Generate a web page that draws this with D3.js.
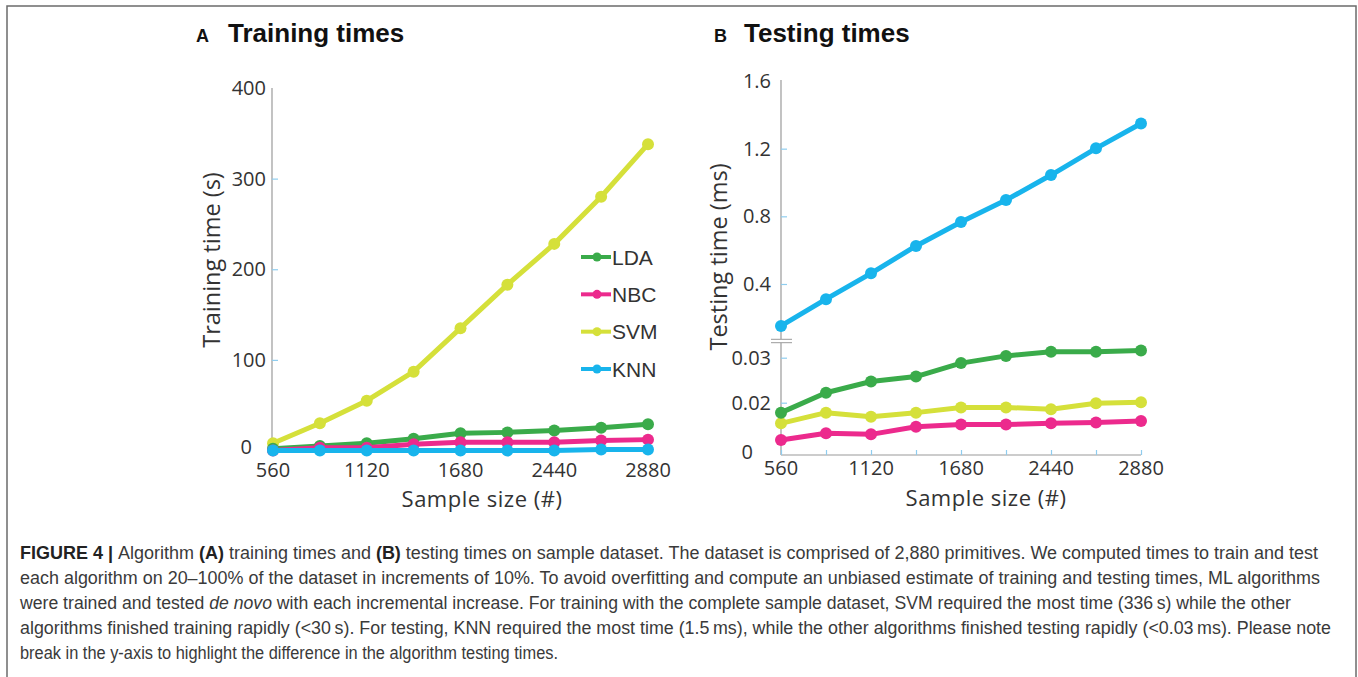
<!DOCTYPE html>
<meta charset="utf-8">
<script src="https://d3js.org/d3.v7.min.js"></script>
<style>
  body { margin: 0; background: #fff; }
  text { fill: #333; }
</style>
<div id="fig"></div>
<script>
// x categories: percent of the dataset used (20..100 in steps of 10)
var pct = [20, 30, 40, 50, 60, 70, 80, 90, 100];
// tick labels printed under every other point
var xTickPct = [20, 40, 60, 80, 100];
var xTickLabels = ["560", "1120", "1680", "2440", "2880"];

var algos = ["LDA", "NBC", "SVM", "KNN"];
var colors = {LDA: "#3aab4a", NBC: "#ec2a8d", SVM: "#d5e03a", KNN: "#18b4ec"};

// training times (s)
var trainLDA = [2, 5, 8, 13, 19, 20, 22, 25, 29];
var trainNBC = [0, 3, 3, 7, 9, 9, 9, 11, 12];
var trainSVM = [8, 30, 55, 87, 135, 183, 228, 280, 338];
var trainKNN = [0, 0, 0, 0, 0, 0, 0, 1, 1];

// testing times (ms)
var testLDA = [0.0162, 0.0222, 0.0247, 0.0258, 0.0288, 0.0304, 0.0313, 0.0313, 0.0316];
var testNBC = [0.0057, 0.0083, 0.0079, 0.0108, 0.0117, 0.0117, 0.0121, 0.0124, 0.0130];
var testSVM = [0.0121, 0.0162, 0.0146, 0.0162, 0.0182, 0.0182, 0.0175, 0.0198, 0.0201];
var testKNN = [0.152, 0.310, 0.463, 0.625, 0.766, 0.896, 1.044, 1.202, 1.349];

var trainTicks = [0, 100, 200, 300, 400];
var testTopTicks = [0.4, 0.8, 1.2, 1.6];
var testBotTicks = [0, 0.02, 0.03];

var W = 1358, H = 677;
var svg = d3.select("#fig").append("svg").attr("width", W).attr("height", H);

// outer frame
svg.append("rect").attr("x", 7).attr("y", 6).attr("width", 1349).attr("height", 680)
  .attr("fill", "none").attr("stroke", "#6b6b6b").attr("stroke-width", 1.5);

var tickFont = "Open Sans, sans-serif";
var axisColor = "#9a9a9a", tickColor = "#8fcdef";

function panelTitle(x, letter, title, gap) {
  var t = svg.append("text").attr("x", x).attr("y", 42)
    .style("font-family", "Liberation Sans, Arial, sans-serif").style("font-weight", "bold");
  t.append("tspan").text(letter).style("font-size", "18px").attr("fill", "#111");
  t.append("tspan").text(title).attr("dx", gap).style("font-size", "26px").attr("fill", "#111");
}

function drawSeries(g, x, y, vals, color) {
  var pts = pct.map(function(p, i) { return [x(p), y(vals[i])]; });
  g.append("path").attr("d", d3.line()(pts))
    .attr("fill", "none").attr("stroke", color).attr("stroke-width", 5)
    .attr("stroke-linejoin", "round");
  g.selectAll(null).data(pts).enter().append("circle")
    .attr("cx", function(d) { return d[0]; }).attr("cy", function(d) { return d[1]; })
    .attr("r", 6).attr("fill", color);
}

function styleAxis(g) {
  g.select(".domain").remove();
  g.selectAll(".tick line").attr("stroke", tickColor).attr("stroke-width", 1.2);
  g.selectAll(".tick text").style("font-family", tickFont).style("font-size", "20px").attr("fill", "#333");
}

// ---------------- Panel A ----------------
panelTitle(196, "A", "Training times", 19);

var xA = d3.scalePoint().domain(pct).range([273, 648]);
var yA = d3.scaleLinear().domain([0, 400]).range([450.5, 88]);

var gA = svg.append("g");
gA.append("line").attr("x1", 272).attr("x2", 272).attr("y1", 88).attr("y2", 451)
  .attr("stroke", axisColor).attr("stroke-width", 1.2);

var yAxisA = gA.append("g").attr("transform", "translate(272,0)")
  .call(d3.axisLeft(yA).tickValues(trainTicks).tickSizeInner(-6).tickSizeOuter(0).tickPadding(6));
styleAxis(yAxisA);
yAxisA.selectAll(".tick").filter(function(d) { return d === 0 || d === 400; }).select("line").remove();
yAxisA.selectAll(".tick").filter(function(d) { return d === 0; }).select("text")
  .attr("x", -20).attr("y", -3);

gA.selectAll(null).data(xTickPct).enter().append("text")
  .attr("x", function(d) { return xA(d); }).attr("y", 477)
  .attr("text-anchor", "middle")
  .style("font-family", tickFont).style("font-size", "20px")
  .text(function(d, i) { return xTickLabels[i]; });

gA.append("text").attr("x", 482).attr("y", 507).attr("text-anchor", "middle")
  .style("font-family", tickFont).style("font-size", "22px").style("letter-spacing", "0.5px")
  .text("Sample size (#)");
gA.append("text").attr("transform", "translate(220,260)rotate(-90)").attr("text-anchor", "middle")
  .style("font-family", tickFont).style("font-size", "23.5px").text("Training time (s)");

var trainData = {LDA: trainLDA, NBC: trainNBC, SVM: trainSVM, KNN: trainKNN};
["SVM", "LDA", "NBC", "KNN"].forEach(function(k) {
  drawSeries(gA, xA, yA, trainData[k], colors[k]);
});

// legend
var legY = d3.scalePoint().domain(algos).range([257, 369]);
var leg = gA.selectAll(null).data(algos).enter().append("g")
  .attr("transform", function(d) { return "translate(0," + legY(d) + ")"; });
leg.append("line").attr("x1", 581).attr("x2", 611).attr("stroke-width", 4)
  .attr("stroke", function(d) { return colors[d]; });
leg.append("circle").attr("cx", 597).attr("r", 4.5).attr("fill", function(d) { return colors[d]; });
leg.append("text").attr("x", 612).attr("dy", "0.36em")
  .style("font-family", "Liberation Sans, Arial, sans-serif").style("font-size", "21px")
  .text(function(d) { return d; });

// ---------------- Panel B ----------------
panelTitle(714, "B", "Testing times", 17);

var xB = d3.scalePoint().domain(pct).range([781, 1141]);
var yTop = d3.scaleLinear().domain([0.06, 1.6]).range([341.5, 81]);
var yBot = d3.scaleLinear().domain(testBotTicks).range([455, 402.7, 357.7]);

var gB = svg.append("g");
gB.append("line").attr("x1", 781).attr("x2", 781).attr("y1", 80).attr("y2", 339)
  .attr("stroke", axisColor).attr("stroke-width", 1.2);
gB.append("line").attr("x1", 781).attr("x2", 781).attr("y1", 343).attr("y2", 455)
  .attr("stroke", axisColor).attr("stroke-width", 1.2);
gB.append("line").attr("x1", 781).attr("x2", 1141).attr("y1", 455).attr("y2", 455)
  .attr("stroke", axisColor).attr("stroke-width", 1.2);
// break marks
[339.3, 342.7].forEach(function(yy) {
  gB.append("line").attr("x1", 771).attr("x2", 792).attr("y1", yy).attr("y2", yy)
    .attr("stroke", "#9a9a9a").attr("stroke-width", 1);
});

var yAxisBT = gB.append("g").attr("transform", "translate(781,0)")
  .call(d3.axisLeft(yTop).tickValues(testTopTicks).tickSizeInner(-6).tickSizeOuter(0).tickPadding(10)
    .tickFormat(d3.format(".1f")));
styleAxis(yAxisBT);
yAxisBT.selectAll(".tick").filter(function(d) { return d === 1.6; }).select("line").remove();

var yAxisBB = gB.append("g").attr("transform", "translate(781,0)")
  .call(d3.axisLeft(yBot).tickValues(testBotTicks).tickSizeInner(-6).tickSizeOuter(0).tickPadding(10)
    .tickFormat(function(d) { return d === 0 ? "0" : d3.format(".2f")(d); }));
styleAxis(yAxisBB);
yAxisBB.selectAll(".tick").filter(function(d) { return d === 0; }).select("line").remove();
yAxisBB.selectAll(".tick").filter(function(d) { return d === 0; }).select("text")
  .attr("x", -28).attr("y", -3);

var xAxisB = gB.append("g").attr("transform", "translate(0,455)")
  .call(d3.axisBottom(xB).tickSizeInner(-5).tickSizeOuter(0).tickFormat(""));
xAxisB.select(".domain").remove();
xAxisB.selectAll(".tick line").attr("stroke", tickColor).attr("stroke-width", 1.2);

gB.selectAll(null).data(xTickPct).enter().append("text")
  .attr("x", function(d) { return xB(d); }).attr("y", 475)
  .attr("text-anchor", "middle")
  .style("font-family", tickFont).style("font-size", "20px")
  .text(function(d, i) { return xTickLabels[i]; });

gB.append("text").attr("x", 986).attr("y", 506).attr("text-anchor", "middle")
  .style("font-family", tickFont).style("font-size", "22px").style("letter-spacing", "0.5px")
  .text("Sample size (#)");
gB.append("text").attr("transform", "translate(727,257)rotate(-90)").attr("text-anchor", "middle")
  .style("font-family", tickFont).style("font-size", "23.5px").text("Testing time (ms)");

drawSeries(gB, xB, yTop, testKNN, colors.KNN);
drawSeries(gB, xB, yBot, testSVM, colors.SVM);
drawSeries(gB, xB, yBot, testNBC, colors.NBC);
drawSeries(gB, xB, yBot, testLDA, colors.LDA);

// ---------------- Caption ----------------
var capLines = [
  [["FIGURE 4 | ", "b"], ["Algorithm ", ""], ["(A)", "b"], [" training times and ", ""], ["(B)", "b"],
   [" testing times on sample dataset. The dataset is comprised of 2,880 primitives. We computed times to train and test", ""]],
  [["each algorithm on 20\u2013100% of the dataset in increments of 10%. To avoid overfitting and compute an unbiased estimate of training and testing times, ML algorithms", ""]],
  [["were trained and tested ", ""], ["de novo", "i"],
   [" with each incremental increase. For training with the complete sample dataset, SVM required the most time (336\u2009s) while the other", ""]],
  [["algorithms finished training rapidly (<30\u2009s). For testing, KNN required the most time (1.5\u2009ms), while the other algorithms finished testing rapidly (<0.03\u2009ms). Please note", ""]],
  [["break in the y-axis to highlight the difference in the algorithm testing times.", ""]]
];
var capWidths = [1298, 1300, 1271, 1311, 538];

var cap = svg.append("g");
capLines.forEach(function(parts, i) {
  var t = cap.append("text").attr("x", 20).attr("y", 559 + i * 25)
    .attr("textLength", capWidths[i]).attr("lengthAdjust", "spacingAndGlyphs")
    .style("font-family", "Liberation Sans Narrow, Liberation Sans, Arial, sans-serif")
    .style("font-size", "17.5px");
  parts.forEach(function(p) {
    var s = t.append("tspan").text(p[0]).attr("fill", p[1] === "b" ? "#222" : "#3a3a3a");
    if (p[1] === "b") s.style("font-weight", "bold");
    if (p[1] === "i") s.style("font-style", "italic");
  });
});
</script>
